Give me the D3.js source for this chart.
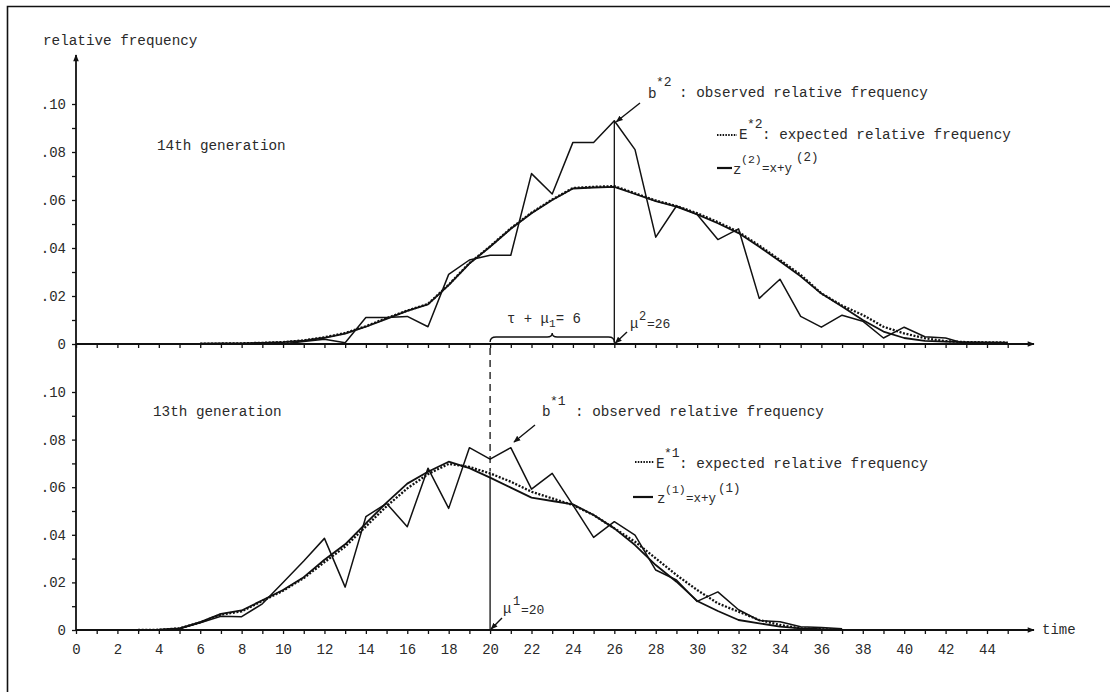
<!DOCTYPE html>
<html>
<head>
<meta charset="utf-8">
<script src="https://cdn.jsdelivr.net/npm/d3@7"></script>
<style>
body { margin: 0; background: #fff; }
svg text { font-family: "Liberation Mono", "DejaVu Sans Mono", monospace; fill: #2a2a2a; }
.tick text { font-size: 14px; }
</style>
</head>
<body>
<div id="drawing-area"></div>
<script>

// time axis
var timeTicks = d3.range(0, 46);
var timeLabels = [0, 2, 4, 6, 8, 10, 12, 14, 16, 18, 20, 22, 24, 26, 28, 30, 32, 34, 36, 38, 40, 42, 44];
var freqTicks = [0, 0.01, 0.02, 0.03, 0.04, 0.05, 0.06, 0.07, 0.08, 0.09, 0.10];
var freqLabels = ["0", "", ".02", "", ".04", "", ".06", "", ".08", "", ".10"];

// 14th generation (upper panel)
var gen14ObsStart = 10;
var gen14Obs = [0.000, 0.001, 0.002, 0.0005, 0.011, 0.011, 0.0115, 0.0072, 0.029, 0.035,
                0.037, 0.037, 0.071, 0.0625, 0.084, 0.084, 0.093, 0.081, 0.0445, 0.0575,
                0.054, 0.0435, 0.048, 0.019, 0.027, 0.0115, 0.007, 0.012, 0.0095, 0.0025,
                0.007, 0.003, 0.0025, 0.0];
var gen14ZStart = 6;
var gen14Z = [0.0001, 0.0002, 0.0003, 0.0005, 0.0008, 0.0014, 0.0026, 0.0043, 0.0072, 0.0105,
              0.0138, 0.0165, 0.0245, 0.0335, 0.0405, 0.048, 0.0545, 0.060, 0.0648, 0.0652,
              0.0655, 0.0625, 0.0595, 0.0572, 0.054, 0.0503, 0.0462, 0.0405, 0.0345, 0.0282,
              0.021, 0.0156, 0.0100, 0.0052, 0.0025, 0.0013, 0.001, 0.0008, 0.0007, 0.0006];
var gen14ExpStart = 6;
var gen14Exp = [0.0001, 0.0002, 0.0003, 0.0005, 0.0008, 0.0015, 0.0028, 0.0046, 0.0074, 0.0108,
                0.0139, 0.0167, 0.0247, 0.0337, 0.0407, 0.0482, 0.0547, 0.0602, 0.065, 0.0655,
                0.0658, 0.0628, 0.0598, 0.0575, 0.0545, 0.0508, 0.0467, 0.041, 0.035, 0.0288,
                0.0211, 0.016, 0.0121, 0.0072, 0.0044, 0.0024, 0.0012, 0.0008, 0.0007, 0.0006];

// 13th generation (lower panel)
var gen13ObsStart = 3;
var gen13Obs = [0.0, 0.0, 0.0005, 0.003, 0.0058, 0.0056, 0.011, 0.020, 0.029, 0.0385,
                0.018, 0.0476, 0.0532, 0.0434, 0.068, 0.0511, 0.0766, 0.0718, 0.0766, 0.0592,
                0.0658, 0.0525, 0.0389, 0.0455, 0.0399, 0.0252, 0.021, 0.012, 0.016, 0.0085,
                0.004, 0.0035, 0.0014, 0.001, 0.0005];
var gen13ZStart = 3;
var gen13Z = [0.0, 0.0001, 0.0007, 0.0033, 0.0068, 0.0082, 0.0125, 0.0168, 0.0222, 0.0295,
              0.036, 0.0448, 0.0535, 0.0615, 0.0665, 0.0707, 0.068, 0.064, 0.0598, 0.0556,
              0.0542, 0.0528, 0.0483, 0.0427, 0.0357, 0.0273, 0.0203, 0.0122, 0.008, 0.0042,
              0.0028, 0.0014, 0.0007, 0.0004, 0.0003];
var gen13ExpStart = 3;
var gen13Exp = [0.0, 0.0001, 0.0007, 0.0032, 0.0065, 0.0078, 0.0122, 0.0165, 0.0218, 0.0285,
                0.035, 0.0435, 0.052, 0.0595, 0.0655, 0.0698, 0.0685, 0.0658, 0.0623, 0.0581,
                0.0553, 0.0525, 0.0483, 0.0427, 0.0371, 0.0301, 0.0231, 0.0168, 0.0112, 0.0077,
                0.0042, 0.0021, 0.0007, 0.0003, 0.0002];

var muTop = 26;      // mu^2
var muBottom = 20;   // mu^1


var sx = 1110, sy = 692;
var svg = d3.select('#drawing-area').append('svg').attr('width', sx).attr('height', sy);

var x = d3.scaleLinear().domain([0, 44]).range([76, 987]);
var yTop = d3.scaleLinear().domain([0, 0.10]).range([344, 104]);
var yBot = d3.scaleLinear().domain([0, 0.10]).range([630, 392]);

function pts(arr, start) {
    return arr.map(function (v, i) { return { t: start + i, v: v }; });
}

// markers
var defs = svg.append("defs");
defs.append("marker").attr("id", "arr").attr("viewBox", "0 0 10 10")
    .attr("refX", 9).attr("refY", 5).attr("markerWidth", 7).attr("markerHeight", 7)
    .attr("markerUnits", "userSpaceOnUse").attr("orient", "auto")
    .append("path").attr("d", "M0,1 L10,5 L0,9 Z").attr("fill", "#111");
defs.append("marker").attr("id", "axarr").attr("viewBox", "0 0 10 10")
    .attr("refX", 9).attr("refY", 5).attr("markerWidth", 9).attr("markerHeight", 7)
    .attr("markerUnits", "userSpaceOnUse").attr("orient", "auto")
    .append("path").attr("d", "M0,1 L10,5 L0,9 Z").attr("fill", "#111");

// frame
svg.append("path").attr("d", "M7.5,692 L7.5,6.5 L1110,6.5")
    .attr("fill", "none").attr("stroke", "#111").attr("stroke-width", 1.6);

// axes
function xAxis(y0, labels) {
    var ax = d3.axisBottom(x).tickValues(timeTicks).tickSize(4).tickPadding(10)
        .tickFormat(function (d) { return labels && timeLabels.indexOf(d) >= 0 ? d : ""; });
    var g = svg.append("g").attr("transform", "translate(0," + y0 + ")").call(ax);
    g.select(".domain").remove();
    g.selectAll(".tick line").attr("stroke", "#111").attr("stroke-width", 1.3);
    g.selectAll(".tick text").attr("fill", "#2a2a2a");
    svg.append("line").attr("x1", x(0)).attr("x2", 1034).attr("y1", y0).attr("y2", y0)
        .attr("stroke", "#111").attr("stroke-width", 1.8).attr("marker-end", "url(#axarr)");
}
function yAxis(scale) {
    var ax = d3.axisLeft(scale).tickValues(freqTicks).tickSize(4).tickPadding(6)
        .tickFormat(function (d, i) { return freqLabels[i]; });
    var g = svg.append("g").attr("transform", "translate(" + x(0) + ",0)").call(ax);
    g.select(".domain").remove();
    g.selectAll(".tick line").attr("stroke", "#111").attr("stroke-width", 1.3);
}
yAxis(yTop);
yAxis(yBot);
svg.append("line").attr("x1", x(0)).attr("x2", x(0)).attr("y1", yBot(0)).attr("y2", 55)
    .attr("stroke", "#111").attr("stroke-width", 1.8).attr("marker-end", "url(#axarr)");
xAxis(yTop(0), false);
xAxis(yBot(0), true);

svg.append("text").attr("x", 1042).attr("y", 634).attr("font-size", 14).text("time");
svg.append("text").attr("x", 43).attr("y", 45).attr("font-size", 14.3).text("relative frequency");
svg.append("text").attr("x", 157).attr("y", 150).attr("font-size", 14.3).text("14th generation");
svg.append("text").attr("x", 153).attr("y", 416).attr("font-size", 14.3).text("13th generation");

// series
function drawSeries(data, start, scale, style) {
    var line = d3.line().x(function (d) { return x(d.t); }).y(function (d) { return scale(d.v); });
    var p = svg.append("path").datum(pts(data, start)).attr("d", line)
        .attr("fill", "none").attr("stroke", "#111").attr("stroke-linejoin", "round");
    if (style == "obs") p.attr("stroke-width", 1.5);
    if (style == "z") p.attr("stroke-width", 1.8);
    if (style == "exp") p.attr("stroke-width", 2.3).attr("stroke-dasharray", "2,1.6");
}
drawSeries(gen14Z, gen14ZStart, yTop, "z");
drawSeries(gen14Exp, gen14ExpStart, yTop, "exp");
drawSeries(gen14Obs, gen14ObsStart, yTop, "obs");
drawSeries(gen13Z, gen13ZStart, yBot, "z");
drawSeries(gen13Exp, gen13ExpStart, yBot, "exp");
drawSeries(gen13Obs, gen13ObsStart, yBot, "obs");

// mean lines
var peakTop = gen14Obs[muTop - gen14ObsStart];
svg.append("line").attr("x1", x(muTop)).attr("x2", x(muTop)).attr("y1", yTop(0)).attr("y2", yTop(peakTop))
    .attr("stroke", "#111").attr("stroke-width", 1.3);
var expBot = gen13Exp[muBottom - gen13ExpStart];
svg.append("line").attr("x1", x(muBottom)).attr("x2", x(muBottom)).attr("y1", yBot(0)).attr("y2", yBot(expBot))
    .attr("stroke", "#111").attr("stroke-width", 1.3);
svg.append("line").attr("x1", x(muBottom)).attr("x2", x(muBottom)).attr("y1", yTop(0) + 4).attr("y2", yBot(expBot) - 2)
    .attr("stroke", "#111").attr("stroke-width", 1.3).attr("stroke-dasharray", "7,5");

// brace tau + mu_1 = 6
var bx0 = x(muBottom), bx1 = x(muTop), bm = (bx0 + bx1) / 2, by = yTop(0) - 7;
svg.append("path")
    .attr("d", "M" + bx0 + "," + (by + 5) + " Q" + bx0 + "," + by + " " + (bx0 + 6) + "," + by +
        " L" + (bm - 5) + "," + by + " Q" + bm + "," + by + " " + bm + "," + (by - 4) +
        " Q" + bm + "," + by + " " + (bm + 5) + "," + by +
        " L" + (bx1 - 6) + "," + by + " Q" + bx1 + "," + by + " " + bx1 + "," + (by + 5))
    .attr("fill", "none").attr("stroke", "#111").attr("stroke-width", 1.4);
var tl = svg.append("text").attr("x", 507).attr("y", 323).attr("font-size", 14);
tl.append("tspan").text("\u03c4 + \u03bc");
tl.append("tspan").attr("dy", 4).attr("font-size", 11).text("1");
tl.append("tspan").attr("dy", -4).text("= 6");

// annotations: text pieces
function txt(x0, y0, s, fs) {
    return svg.append("text").attr("x", x0).attr("y", y0).attr("font-size", fs || 14.3).text(s);
}
function arrow(x1, y1, x2, y2) {
    svg.append("line").attr("x1", x1).attr("y1", y1).attr("x2", x2).attr("y2", y2)
        .attr("stroke", "#111").attr("stroke-width", 1.4).attr("marker-end", "url(#arr)");
}

// mu^2 = 26
txt(630, 328, "\u03bc", 14);
txt(639, 320, "2", 12);
txt(647, 328, "=26", 13);
arrow(627, 332, x(muTop) + 1, yTop(0) - 1);

// mu^1 = 20
txt(503, 613, "\u03bc", 14);
txt(513, 605, "1", 12);
txt(521, 614, "=20", 13);
arrow(502, 618, x(muBottom) + 1, yBot(0) - 1);

// b*2 legend
txt(648, 98, "b");
txt(656, 86, "*2", 13);
txt(679, 97, ": observed relative frequency");
arrow(640, 103, x(muTop) + 2, yTop(peakTop) + 1);

// E*2 legend
svg.append("line").attr("x1", 717).attr("x2", 737).attr("y1", 135).attr("y2", 135)
    .attr("stroke", "#111").attr("stroke-width", 2).attr("stroke-dasharray", "1.5,1.3");
txt(739, 139, "E");
txt(747, 128, "*2", 13);
txt(762, 139, ": expected relative frequency");

// z(2) legend
svg.append("line").attr("x1", 717).attr("x2", 732).attr("y1", 168).attr("y2", 168)
    .attr("stroke", "#111").attr("stroke-width", 2.2);
txt(733, 174, "z", 14);
txt(741, 163, "(2)", 11.5);
txt(762, 172, "=x+y", 12.5);
txt(796, 161, "(2)", 12.5);

// b*1 legend
txt(542, 416, "b");
txt(550, 405, "*1", 13);
txt(575, 416, ": observed relative frequency");
arrow(535, 425, 514, 442);

// E*1 legend
svg.append("line").attr("x1", 635).attr("x2", 654).attr("y1", 462).attr("y2", 462)
    .attr("stroke", "#111").attr("stroke-width", 2).attr("stroke-dasharray", "1.5,1.3");
txt(656, 468, "E");
txt(664, 457, "*1", 13);
txt(679, 468, ": expected relative frequency");

// z(1) legend
svg.append("line").attr("x1", 633).attr("x2", 653).attr("y1", 497).attr("y2", 497)
    .attr("stroke", "#111").attr("stroke-width", 2.2);
txt(657, 503, "z", 14);
txt(665, 493, "(1)", 11.5);
txt(686, 502, "=x+y", 12.5);
txt(718, 492, "(1)", 12.5);

</script>
</body>
</html>
